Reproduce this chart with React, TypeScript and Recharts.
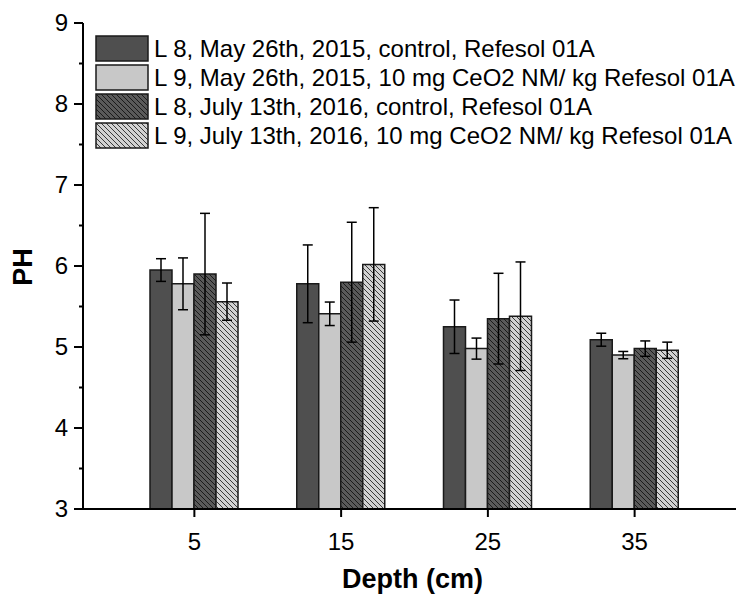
import { BarChart, Bar, XAxis, YAxis, ErrorBar } from 'recharts';

const depths = ['5', '15', '25', '35'];

const seriesNames = [
  'L 8, May 26th, 2015, control, Refesol 01A',
  'L 9, May 26th, 2015, 10 mg CeO2 NM/ kg Refesol 01A',
  'L 8, July 13th, 2016, control, Refesol 01A',
  'L 9, July 13th, 2016, 10 mg CeO2 NM/ kg Refesol 01A',
];

const l8May2015 = [5.95, 5.78, 5.25, 5.09];
const l8May2015Err = [0.14, 0.48, 0.33, 0.08];
const l9May2015 = [5.78, 5.41, 4.98, 4.9];
const l9May2015Err = [0.32, 0.145, 0.13, 0.045];
const l8Jul2016 = [5.9, 5.8, 5.35, 4.98];
const l8Jul2016Err = [0.75, 0.74, 0.56, 0.095];
const l9Jul2016 = [5.56, 6.02, 5.38, 4.96];
const l9Jul2016Err = [0.23, 0.7, 0.67, 0.1];

const yTicks = [3, 3.5, 4, 4.5, 5, 5.5, 6, 6.5, 7, 7.5, 8, 8.5, 9];

const data = depths.map((depth, i) => ({
  depth,
  s1: l8May2015[i],
  s1e: l8May2015Err[i],
  s2: l9May2015[i],
  s2e: l9May2015Err[i],
  s3: l8Jul2016[i],
  s3e: l8Jul2016Err[i],
  s4: l9Jul2016[i],
  s4e: l9Jul2016Err[i],
}));

const fills = ['#4f4f4f', '#c8c8c8', 'url(#hatchDark)', 'url(#hatchLight)'];
const legendFills = ['#4f4f4f', '#c8c8c8', 'url(#lgHatchDark)', 'url(#lgHatchLight)'];

const font = '"Liberation Sans", Arial, sans-serif';

const Hatch = ({ id, base, line }) => (
  <pattern id={id} patternUnits="userSpaceOnUse" width={5} height={5}>
    <rect width={5} height={5} fill={base} />
    <path d="M-1,-1 L6,6 M-1,4 L1,6 M4,-1 L6,1" stroke={line} strokeWidth={1} />
  </pattern>
);

const YTick = ({ x, y, payload }) => {
  const major = Number.isInteger(payload.value);
  return (
    <g>
      <line x1={x - (major ? 9 : 4)} x2={x} y1={y} y2={y} stroke="#000" strokeWidth={2} />
      {major && (
        <text x={x - 15} y={y} dy="0.35em" textAnchor="end" fontSize={24} fontFamily={font} fill="#000">
          {payload.value}
        </text>
      )}
    </g>
  );
};

const ChartLegend = () => (
  <div
    style={{
      position: 'absolute',
      left: 95,
      top: 34,
      fontFamily: font,
      fontSize: 24,
      color: '#000',
      lineHeight: '29px',
    }}
  >
    <svg width={0} height={0} style={{ position: 'absolute' }}>
      <defs>
        <Hatch id="lgHatchDark" base="#5a5a5a" line="#1a1a1a" />
        <Hatch id="lgHatchLight" base="#d2d2d2" line="#3a3a3a" />
      </defs>
    </svg>
    {seriesNames.map((name, i) => (
      <div key={name} style={{ display: 'flex', alignItems: 'center', height: 29, whiteSpace: 'nowrap' }}>
        <svg width={54} height={27} style={{ marginRight: 5 }}>
          <rect x={1} y={1} width={52} height={25} fill={legendFills[i]} stroke="#1a1a1a" strokeWidth={1.5} />
        </svg>
        <span>{name}</span>
      </div>
    ))}
  </div>
);

const App = () => {
  return (
    <div style={{ position: 'absolute', left: 0, top: 0, width: 736, height: 597, background: '#fff' }}>
      <BarChart
        width={736}
        height={597}
        data={data}
        margin={{ top: 23, right: 0, bottom: 0, left: 0 }}
        barSize={22}
        barGap={0}
      >
        <defs>
          <Hatch id="hatchDark" base="#5a5a5a" line="#1a1a1a" />
          <Hatch id="hatchLight" base="#d2d2d2" line="#3a3a3a" />
        </defs>
        <XAxis
          dataKey="depth"
          type="category"
          height={88}
          padding={{ left: 38, right: 28 }}
          axisLine={{ stroke: '#000', strokeWidth: 2 }}
          tickLine={{ stroke: '#000', strokeWidth: 2 }}
          tickSize={8}
          tickMargin={16}
          tick={{ fontSize: 24, fontFamily: font, fill: '#000' }}
          label={{
            content: ({ viewBox }) => (
              <text
                x={viewBox.x + viewBox.width / 2 + 3}
                y={viewBox.y + 79}
                textAnchor="middle"
                fontSize={27}
                fontWeight="bold"
                fontFamily={font}
                fill="#000"
              >
                Depth (cm)
              </text>
            ),
          }}
        />
        <XAxis
          xAxisId="top"
          dataKey="depth"
          type="category"
          orientation="top"
          height={0}
          mirror
          padding={{ left: 38, right: 28 }}
          axisLine={{ stroke: '#000', strokeWidth: 2 }}
          tickLine={{ stroke: '#000', strokeWidth: 1.5 }}
          tickSize={5}
          tickFormatter={() => ''}
        />
        <YAxis
          type="number"
          domain={[3, 9]}
          ticks={yTicks}
          interval={0}
          width={83}
          allowDataOverflow
          axisLine={{ stroke: '#000', strokeWidth: 2 }}
          tickLine={false}
          tickSize={0}
          tickMargin={0}
          tick={<YTick />}
          label={{
            content: () => (
              <text
                x={23}
                y={267}
                transform="rotate(-90, 23, 267)"
                dy="0.35em"
                textAnchor="middle"
                fontSize={27}
                fontWeight="bold"
                fontFamily={font}
                fill="#000"
              >
                PH
              </text>
            ),
          }}
        />
        {['s1', 's2', 's3', 's4'].map((key, i) => (
          <Bar
            key={key}
            dataKey={key}
            name={seriesNames[i]}
            fill={fills[i]}
            stroke="#1a1a1a"
            strokeWidth={1.5}
            isAnimationActive={false}
          >
            <ErrorBar dataKey={`${key}e`} width={5} stroke="#000" strokeWidth={1.5} />
          </Bar>
        ))}
      </BarChart>
      <ChartLegend />
    </div>
  );
};

export default App;
